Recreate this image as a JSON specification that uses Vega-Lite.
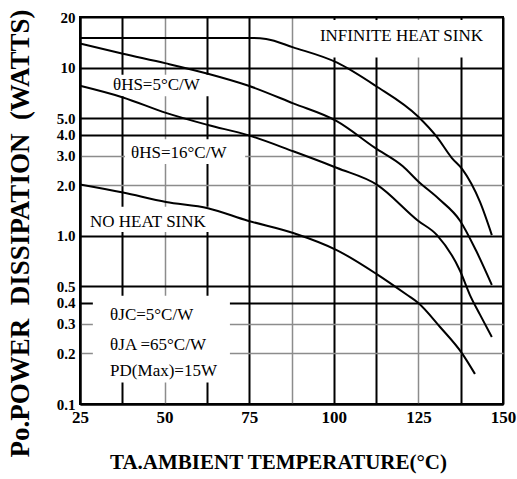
{
  "$schema": "https://vega.github.io/schema/vega-lite/v6.json",
  "width": 423,
  "height": 387,
  "autosize": "none",
  "padding": {"left": 80, "top": 17, "right": 14, "bottom": 75},
  "background": "white",
  "config": {"view": {"stroke": "black", "strokeWidth": 2}, "font": "Liberation Serif"},
  "encoding": {
    "x": {
      "field": "T", "type": "quantitative",
      "scale": {"domain": [25, 150], "nice": false, "zero": false},
      "axis": {
        "title": "TA.AMBIENT TEMPERATURE(°C)",
        "values": [25, 37.5, 50, 62.5, 75, 87.5, 100, 112.5, 125, 137.5, 150],
        "labelExpr": "datum.value % 25 == 0 ? format(datum.value, 'd') : ''",
        "ticks": false, "labelPadding": 5, "labelFontSize": 17, "labelColor": "black",
        "labelFont": "Liberation Serif", "labelFontWeight": "bold", "labelFlush": false, "labelOverlap": false,
        "domainColor": "black", "domainWidth": 2,
        "grid": true, "gridOpacity": 1,
        "gridColor": {"condition": {"test": "datum.value == 50 || datum.value == 87.5 || datum.value == 125", "value": "#8c8c8c"}, "value": "black"},
        "gridWidth": {"condition": {"test": "datum.value == 50 || datum.value == 87.5 || datum.value == 125", "value": 1.5}, "value": 2},
        "titleFont": "Liberation Serif", "titleFontSize": 21, "titleFontWeight": "bold", "titleColor": "black",
        "titleX": 198, "titleY": 58, "titleAlign": "center", "titleBaseline": "middle"
      }
    },
    "y": {
      "field": "P", "type": "quantitative",
      "scale": {"type": "log", "domain": [0.1, 20], "nice": false},
      "axis": {
        "title": "Po.POWER\u00a0 DISSIPATION\u00a0 (WATTS)",
        "values": [0.1, 0.2, 0.3, 0.4, 0.5, 1, 2, 3, 4, 5, 10, 20],
        "labelExpr": "datum.value >= 10 ? format(datum.value, 'd') : format(datum.value, '.1f')",
        "ticks": false, "labelPadding": 5, "labelFontSize": 15, "labelColor": "black",
        "labelFont": "Liberation Serif", "labelFontWeight": "bold", "labelOverlap": false, "labelFlush": false,
        "domainColor": "black", "domainWidth": 2,
        "grid": true, "gridOpacity": 1,
        "gridColor": {"condition": {"test": "datum.value == 3 || datum.value == 2 || datum.value == 0.3 || datum.value == 0.2", "value": "#8c8c8c"}, "value": "black"},
        "gridWidth": {"condition": {"test": "datum.value == 3 || datum.value == 2 || datum.value == 0.3 || datum.value == 0.2", "value": 1.5}, "value": 2},
        "titleFont": "Liberation Serif", "titleFontSize": 27, "titleFontWeight": "bold", "titleColor": "black",
        "titleX": -60, "titleY": 216, "titleAngle": 270, "titleAlign": "center", "titleBaseline": "middle"
      }
    }
  },
  "layer": [
    {
      "data": {"values": [
        {"T": 94.4, "T2": 149, "P": 19.2, "P2": 11.5},
        {"T": 33.3, "T2": 66.4, "P": 9.07, "P2": 6.76},
        {"T": 38.3, "T2": 73.8, "P": 3.75, "P2": 2.67},
        {"T": 26.5, "T2": 64.9, "P": 1.49, "P2": 1.053},
        {"T": 28.8, "T2": 69.3, "P": 0.44, "P2": 0.134}
      ]},
      "mark": {"type": "rect", "fill": "white", "strokeWidth": 0},
      "encoding": {"x2": {"field": "T2"}, "y2": {"field": "P2"}}
    },
    {
      "data": {"values": [
        {"series": "Infinite heat sink", "T": 25, "P": 15},
        {"series": "Infinite heat sink", "T": 76, "P": 15},
        {"series": "Infinite heat sink", "T": 80, "P": 14.8},
        {"series": "Infinite heat sink", "T": 88, "P": 13.2},
        {"series": "Infinite heat sink", "T": 101, "P": 10.7},
        {"series": "Infinite heat sink", "T": 112.2, "P": 7.83},
        {"series": "Infinite heat sink", "T": 124.9, "P": 5.12},
        {"series": "Infinite heat sink", "T": 130.5, "P": 3.86},
        {"series": "Infinite heat sink", "T": 134.9, "P": 2.9},
        {"series": "Infinite heat sink", "T": 137.9, "P": 2.5},
        {"series": "Infinite heat sink", "T": 143.2, "P": 1.59},
        {"series": "Infinite heat sink", "T": 146.7, "P": 1.01},
        {"series": "HS 5", "T": 25, "P": 13.9},
        {"series": "HS 5", "T": 37.7, "P": 12.1},
        {"series": "HS 5", "T": 50.4, "P": 10.6},
        {"series": "HS 5", "T": 62.8, "P": 9.2},
        {"series": "HS 5", "T": 74.6, "P": 7.83},
        {"series": "HS 5", "T": 88, "P": 6.13},
        {"series": "HS 5", "T": 101, "P": 4.79},
        {"series": "HS 5", "T": 112.2, "P": 3.33},
        {"series": "HS 5", "T": 120.4, "P": 2.59},
        {"series": "HS 5", "T": 124.9, "P": 2.11},
        {"series": "HS 5", "T": 131, "P": 1.66},
        {"series": "HS 5", "T": 137.3, "P": 1.23},
        {"series": "HS 5", "T": 142, "P": 0.82},
        {"series": "HS 5", "T": 146.7, "P": 0.51},
        {"series": "HS 16", "T": 25, "P": 7.8},
        {"series": "HS 16", "T": 37.7, "P": 6.65},
        {"series": "HS 16", "T": 50.4, "P": 5.38},
        {"series": "HS 16", "T": 62.8, "P": 4.56},
        {"series": "HS 16", "T": 74.6, "P": 3.97},
        {"series": "HS 16", "T": 88, "P": 3.18},
        {"series": "HS 16", "T": 101, "P": 2.53},
        {"series": "HS 16", "T": 112.8, "P": 2.01},
        {"series": "HS 16", "T": 124.9, "P": 1.23},
        {"series": "HS 16", "T": 130.5, "P": 1.01},
        {"series": "HS 16", "T": 137.3, "P": 0.62},
        {"series": "HS 16", "T": 140.2, "P": 0.446},
        {"series": "HS 16", "T": 143.2, "P": 0.34},
        {"series": "HS 16", "T": 146.7, "P": 0.25},
        {"series": "No heat sink", "T": 25, "P": 2.02},
        {"series": "No heat sink", "T": 37.7, "P": 1.81},
        {"series": "No heat sink", "T": 50.4, "P": 1.59},
        {"series": "No heat sink", "T": 62.8, "P": 1.46},
        {"series": "No heat sink", "T": 74.6, "P": 1.23},
        {"series": "No heat sink", "T": 88, "P": 1.04},
        {"series": "No heat sink", "T": 101, "P": 0.82},
        {"series": "No heat sink", "T": 112.8, "P": 0.59},
        {"series": "No heat sink", "T": 121.6, "P": 0.446},
        {"series": "No heat sink", "T": 124.9, "P": 0.4},
        {"series": "No heat sink", "T": 131.4, "P": 0.287},
        {"series": "No heat sink", "T": 137.9, "P": 0.2},
        {"series": "No heat sink", "T": 141.7, "P": 0.151}
      ]},
      "mark": {"type": "line", "color": "black", "strokeWidth": 2, "interpolate": "monotone"},
      "encoding": {"detail": {"field": "series"}}
    },
    {
      "data": {"values": [
        {"T": 95.9, "P": 15.5, "label": "INFINITE HEAT SINK"},
        {"T": 34.75, "P": 7.83, "label": "θHS=5°C/W"},
        {"T": 40.1, "P": 3.09, "label": "θHS=16°C/W"},
        {"T": 27.95, "P": 1.2, "label": "NO HEAT SINK"},
        {"T": 33.9, "P": 0.336, "label": "θJC=5°C/W"},
        {"T": 33.9, "P": 0.224, "label": "θJA =65°C/W"},
        {"T": 33.9, "P": 0.157, "label": "PD(Max)=15W"}
      ]},
      "mark": {"type": "text", "align": "left", "baseline": "middle", "font": "Liberation Serif", "fontSize": 17, "color": "black"},
      "encoding": {"text": {"field": "label"}}
    }
  ]
}
